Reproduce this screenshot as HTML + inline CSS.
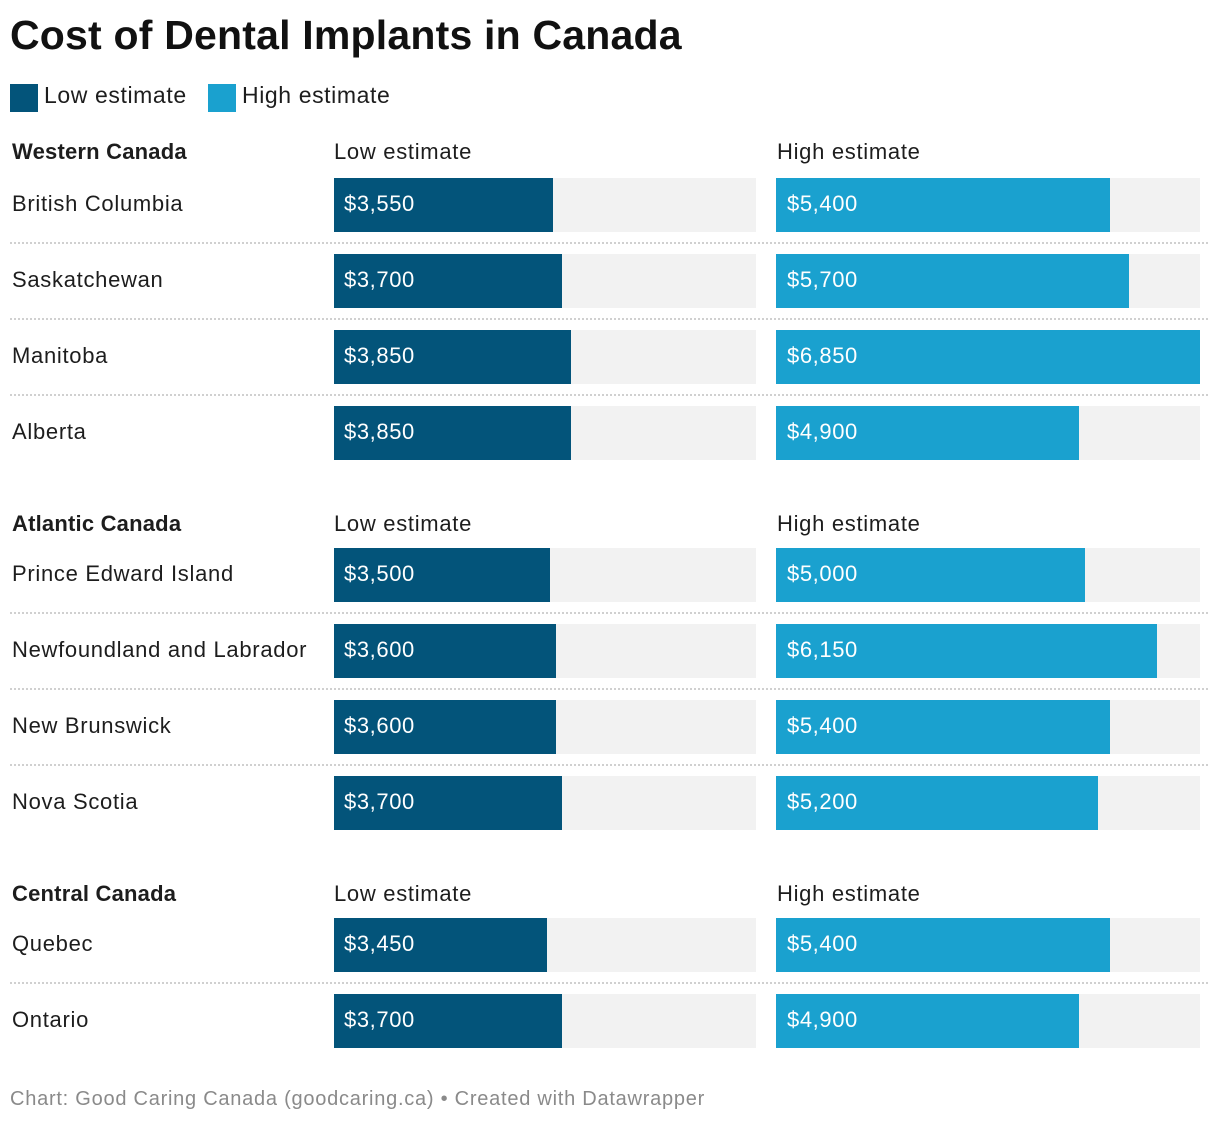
<!DOCTYPE html>
<html><head><meta charset="utf-8"><style>
body{margin:0;width:1220px;height:1126px;background:#fff;font-family:"Liberation Sans",sans-serif;color:#1d1d1d;position:relative;overflow:hidden}
.a{position:absolute;white-space:nowrap}
</style></head><body>
<div class="a" style="left:10px;top:12px;font-size:41px;font-weight:bold;color:#111;letter-spacing:0.2px">Cost of Dental Implants in Canada</div>
<div class="a" style="left:10px;top:84px;width:28px;height:28px;background:#03547a"></div>
<div class="a" style="left:44px;top:82px;font-size:23px;letter-spacing:0.6px">Low estimate</div>
<div class="a" style="left:208px;top:84px;width:28px;height:28px;background:#1aa1cf"></div>
<div class="a" style="left:242px;top:82px;font-size:23px;letter-spacing:0.6px">High estimate</div>
<div id="chart"></div>
<div class="a" style="left:10px;top:1088px;font-size:20px;color:#8a8a8a;letter-spacing:0.75px">Chart: Good Caring Canada (goodcaring.ca) • Created with Datawrapper</div>
<script>
const groups=["Western Canada","Atlantic Canada","Central Canada"];
const groupTops=[152,524,894];
const provinces=[["British Columbia","Saskatchewan","Manitoba","Alberta"],["Prince Edward Island","Newfoundland and Labrador","New Brunswick","Nova Scotia"],["Quebec","Ontario"]];
const lowValues=[[3550,3700,3850,3850],[3500,3600,3600,3700],[3450,3700]];
const highValues=[[5400,5700,6850,4900],[5000,6150,5400,5200],[5400,4900]];
const maxValue=6850;
const barOffsets=[26,24,24];
const c=document.getElementById('chart');
function mk(style,txt){const d=document.createElement('div');d.className='a';d.style.cssText=style;if(txt!==undefined)d.textContent=txt;c.appendChild(d);return d;}
const xLow=v=>v/maxValue*422, xHigh=v=>v/maxValue*424;
const fmt=v=>'$'+v.toLocaleString('en-US');
const ls='letter-spacing:0.7px;';
groups.forEach((g,gi)=>{
  const t=groupTops[gi];
  let e=mk(`left:12px;top:${t-13}px;font-size:22px;font-weight:bold;letter-spacing:0.2px`,g);
  
  
  e=mk(`left:334px;top:${t-13}px;font-size:22px;${ls}`,'Low estimate');
  
  
  e=mk(`left:777px;top:${t-13}px;font-size:22px;${ls}`,'High estimate');
  
  
  provinces[gi].forEach((p,i)=>{
    const y=t+barOffsets[gi]+i*76;
    e=mk(`left:12px;top:${y+13}px;font-size:22px;${ls}`,p);
    
    
    e=mk(`left:334px;top:${y}px;width:422px;height:54px;background:#f2f2f2`);
    
    
    e=mk(`left:776px;top:${y}px;width:424px;height:54px;background:#f2f2f2`);
    
    
    e=mk(`left:334px;top:${y}px;width:${xLow(lowValues[gi][i])}px;height:54px;background:#03547a`);
    
    
    e=mk(`left:776px;top:${y}px;width:${xHigh(highValues[gi][i])}px;height:54px;background:#1aa1cf`);
    
    
    e=mk(`left:344px;top:${y+13}px;font-size:22px;color:#fff;letter-spacing:0.6px`,fmt(lowValues[gi][i]));
    
    
    e=mk(`left:787px;top:${y+13}px;font-size:22px;color:#fff;letter-spacing:0.6px`,fmt(highValues[gi][i]));
    
    
    if(i<provinces[gi].length-1){
      e=mk(`left:10px;top:${y+64}px;width:1198px;height:0;border-top:2px dotted #d0d0d0`);
      
      
    }
  });
});
</script>
</body></html>
